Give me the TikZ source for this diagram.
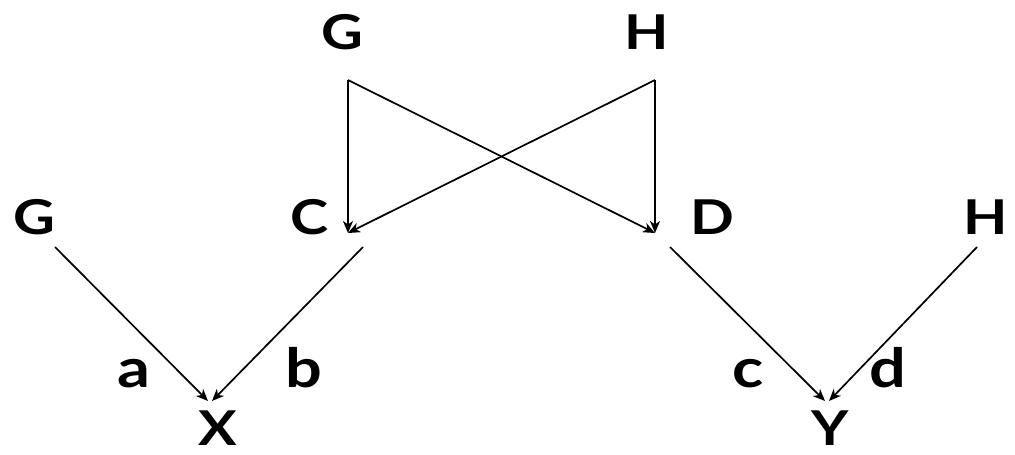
\documentclass[tikz,border=0pt]{standalone}
\usepackage{fontspec}
\setmainfont{Lato}
\newfontfamily\widefont[FakeStretch=1.2]{Lato}
\usetikzlibrary{arrows.meta}
\begin{document}
\begin{tikzpicture}[x=1pt,y=-1pt,
  capnode/.style={font=\widefont\fontsize{48}{48}\selectfont\bfseries, inner sep=0pt, anchor=base},
  wtnode/.style={font=\widefont\fontsize{54}{54}\selectfont\bfseries, inner sep=0pt, anchor=base},
  arr/.style={-{Stealth[length=12pt,width=10pt,inset=3.5pt]}, line width=1.7pt}]
\useasboundingbox (0,0) rectangle (1015,455);
% nodes
\node[capnode] (Gt) at (342,49) {G};
\node[capnode] (Ht) at (647,49) {H};
\node[capnode] (Gl) at (34,234) {G};
\node[capnode] (C) at (310,234) {C};
\node[capnode] (D) at (712,234) {D};
\node[capnode] (Hr) at (986,234) {H};
\node[capnode] (X) at (218,445) {X};
\node[capnode] (Y) at (830,445) {Y};
\node[wtnode] (la) at (134,387) {a};
\node[wtnode] (lb) at (304,387) {b};
\node[wtnode] (lc) at (748,387) {c};
\node[wtnode] (ld) at (888,387) {d};
% connector end points
\coordinate (gts) at (348,80);
\coordinate (hts) at (655,80);
\coordinate (cin) at (348,233);
\coordinate (din) at (655,233);
\coordinate (gls) at (55,247);
\coordinate (cs) at (363,247);
\coordinate (xa) at (208,401);
\coordinate (xb) at (212,401);
\coordinate (ds) at (670,247);
\coordinate (hrs) at (977,247);
\coordinate (ya) at (825,401);
\coordinate (yb) at (829,401);
% connectors
\draw[arr] (gts) -- (cin);
\draw[arr] (gts) -- (din);
\draw[arr] (hts) -- (din);
\draw[arr] (hts) -- (cin);
\draw[arr] (gls) -- (xa);
\draw[arr] (cs) -- (xb);
\draw[arr] (ds) -- (ya);
\draw[arr] (hrs) -- (yb);
\end{tikzpicture}
\end{document}
